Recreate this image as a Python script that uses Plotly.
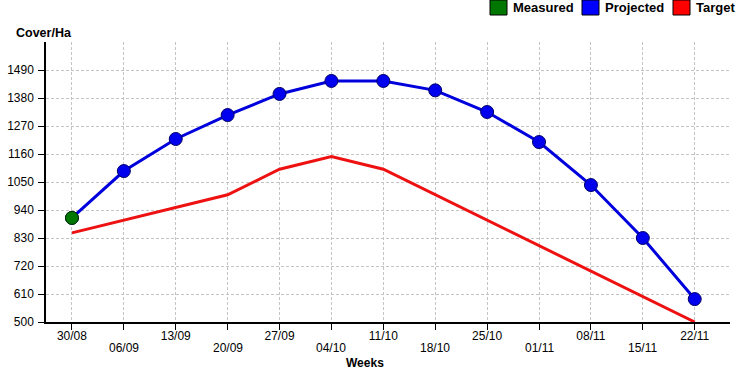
import plotly.graph_objects as go

weeks = ["30/08", "06/09", "13/09", "20/09", "27/09", "04/10", "11/10",
         "18/10", "25/10", "01/11", "08/11", "15/11", "22/11"]
projected = [909, 1093, 1219, 1313, 1396, 1447, 1447, 1410, 1325, 1207, 1038, 830, 590]
target = [850, 900, 950, 1000, 1100, 1150, 1100, 1000, 900, 800, 700, 600, 500]
measured_weeks = ["30/08"]
measured = [909]
y_ticks = [500, 610, 720, 830, 940, 1050, 1160, 1270, 1380, 1490]

idx = list(range(len(weeks)))
midx = [weeks.index(w) for w in measured_weeks]

FONT = "Liberation Sans, Arial"

fig = go.Figure()
fig.add_trace(go.Scatter(x=idx, y=target, mode="lines",
                         line=dict(color="#ee1111", width=3), showlegend=False))
fig.add_trace(go.Scatter(x=idx, y=projected, mode="lines+markers",
                         line=dict(color="#0000dd", width=3),
                         marker=dict(size=13, color="#0000ee", line=dict(color="#000066", width=1)),
                         showlegend=False))
fig.add_trace(go.Scatter(x=midx, y=measured, mode="markers",
                         marker=dict(size=13, color="#007700", line=dict(color="#003300", width=1)),
                         showlegend=False))

# even-indexed labels on the axis, odd-indexed ones staggered one row lower
ticktext = [w if i % 2 == 0 else "" for i, w in enumerate(weeks)]

fig.update_xaxes(range=[-0.5, 12.68], tickmode="array", tickvals=idx, ticktext=ticktext,
                 showgrid=True, gridcolor="#c4c4c4", griddash="3px,2px", gridwidth=1,
                 showline=True, linecolor="black", linewidth=1.5,
                 ticks="outside", ticklen=6, tickcolor="black",
                 tickfont=dict(family=FONT, size=12, color="black"),
                 ticklabelstandoff=-4,
                 zeroline=False, automargin=False)
fig.update_yaxes(range=[500, 1600], tickmode="array", tickvals=y_ticks,
                 showgrid=True, gridcolor="#c4c4c4", griddash="3px,2px", gridwidth=1,
                 showline=True, linecolor="black", linewidth=1.5,
                 ticks="outside", ticklen=6, tickcolor="black",
                 tickfont=dict(family=FONT, size=12, color="black"),
                 ticklabelstandoff=2,
                 zeroline=False, automargin=False)

PW, PH = 684, 280

def px2x(px):
    return (px - 46) / PW

def py2y(py):
    return (322 - py) / PH

for i, w in enumerate(weeks):
    if i % 2 == 1:
        fig.add_annotation(xref="x", yref="paper", x=i, y=py2y(348), xanchor="center",
                           yanchor="middle", text=w, showarrow=False,
                           font=dict(family=FONT, size=12, color="black"))

fig.add_annotation(xref="paper", yref="paper", x=px2x(14), y=py2y(33), xanchor="left",
                   yanchor="middle", text="<b>Cover/Ha</b>", showarrow=False,
                   font=dict(family=FONT, size=12.5, color="black"))
fig.add_annotation(xref="paper", yref="paper", x=px2x(365), y=py2y(363), xanchor="center",
                   yanchor="middle", text="<b>Weeks</b>", showarrow=False,
                   font=dict(family=FONT, size=12, color="black"))

# legend drawn manually
legend_items = [("Measured", "#007700", 490), ("Projected", "#0000ff", 582), ("Target", "#ff0000", 673)]
for name, col, px in legend_items:
    fig.add_shape(type="rect", xref="paper", yref="paper", x0=px2x(px), x1=px2x(px + 17),
                  y0=py2y(15), y1=py2y(0),
                  fillcolor=col, line=dict(color="black", width=1))
    fig.add_annotation(xref="paper", yref="paper", x=px2x(px + 21), y=py2y(7),
                       xanchor="left", yanchor="middle", text="<b>" + name + "</b>", showarrow=False,
                       font=dict(family=FONT, size=13, color="black"))

fig.update_layout(width=750, height=382, margin=dict(l=46, r=20, t=42, b=60, autoexpand=False),
                  plot_bgcolor="white", paper_bgcolor="white", showlegend=False)

fig.write_html("out.html", config={"displayModeBar": False},
               post_script="document.body.style.margin='0';")
